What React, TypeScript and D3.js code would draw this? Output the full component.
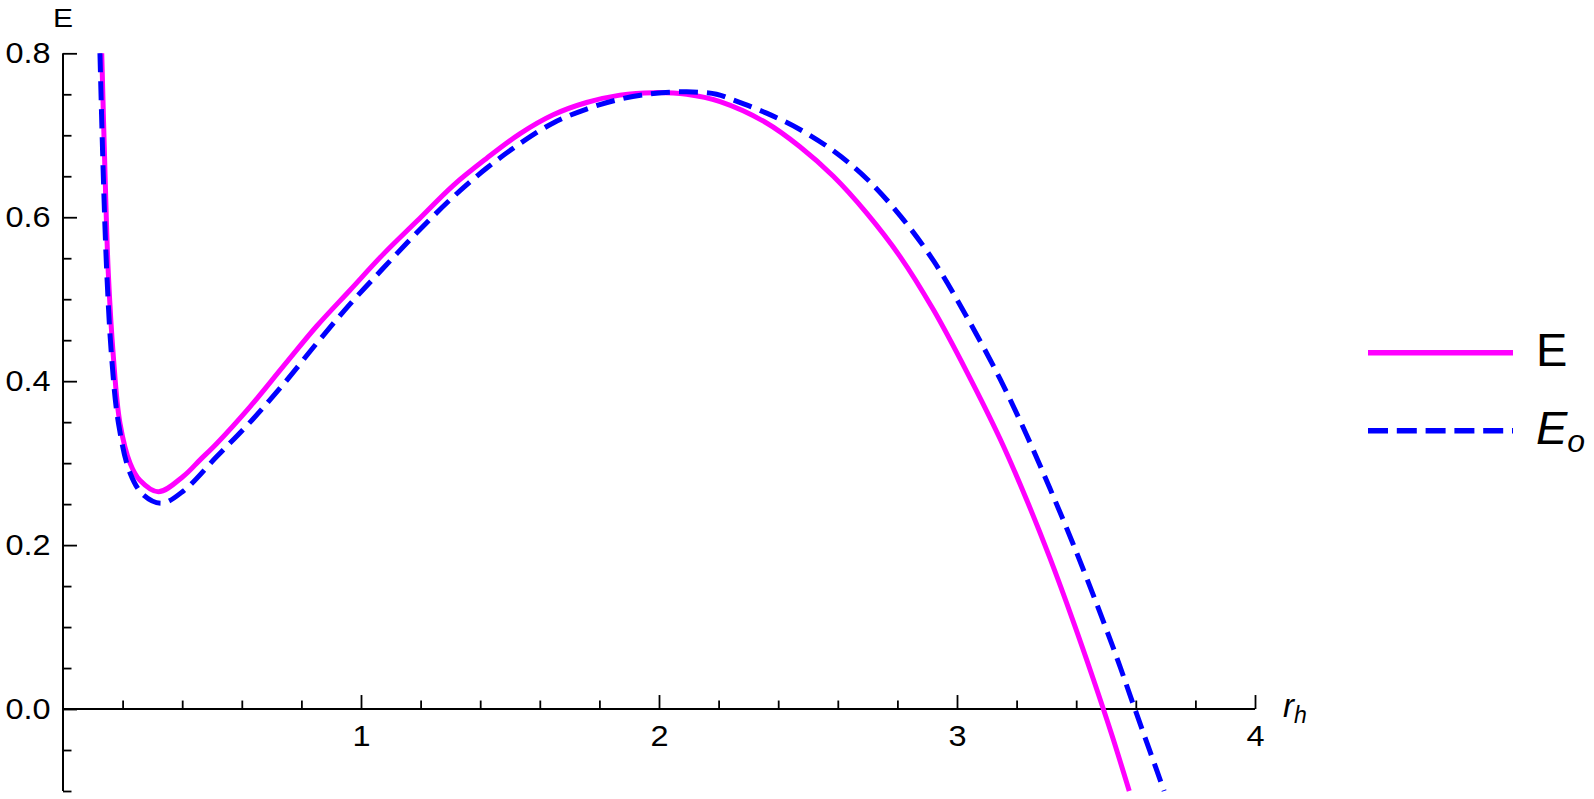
import React, { useRef, useEffect } from 'react';
import * as d3 from 'd3';

// E (solid magenta)
const rE = [0.130, 0.141, 0.152, 0.169, 0.191, 0.225, 0.258, 0.320, 0.404, 0.46, 0.516, 0.628, 0.739, 0.851, 0.963, 1.075, 1.187, 1.31, 1.422, 1.534, 1.645, 1.757, 1.869, 1.981, 2.093, 2.205, 2.361, 2.473, 2.585, 2.697, 2.809, 2.921, 3.032, 3.144, 3.234, 3.312, 3.39, 3.457, 3.52, 3.578];
const eVals = [0.800, 0.654, 0.532, 0.430, 0.349, 0.300, 0.279, 0.265, 0.284, 0.304, 0.324, 0.369, 0.418, 0.467, 0.511, 0.555, 0.595, 0.639, 0.672, 0.702, 0.725, 0.740, 0.749, 0.752, 0.750, 0.741, 0.715, 0.686, 0.650, 0.605, 0.552, 0.487, 0.412, 0.330, 0.255, 0.184, 0.107, 0.037, -0.032, -0.100];

// E_o (dashed blue)
const rEo = [0.124, 0.135, 0.147, 0.163, 0.186, 0.225, 0.27, 0.331, 0.404, 0.516, 0.628, 0.739, 0.851, 0.963, 1.075, 1.187, 1.31, 1.422, 1.534, 1.645, 1.757, 1.869, 1.981, 2.093, 2.193, 2.249, 2.361, 2.473, 2.585, 2.697, 2.809, 2.921, 3.032, 3.144, 3.234, 3.312, 3.39, 3.468, 3.536, 3.597, 3.648, 3.695];
const eoVals = [0.800, 0.654, 0.532, 0.430, 0.349, 0.288, 0.261, 0.251, 0.266, 0.308, 0.350, 0.396, 0.446, 0.494, 0.538, 0.581, 0.625, 0.660, 0.690, 0.715, 0.732, 0.744, 0.751, 0.753, 0.750, 0.743, 0.727, 0.707, 0.681, 0.647, 0.602, 0.547, 0.479, 0.403, 0.334, 0.269, 0.201, 0.129, 0.063, 0.0, -0.052, -0.100];

const xMajor = [1, 2, 3, 4];
const xMinor = d3.range(1, 20).map((i) => i * 0.2).filter((v) => Math.abs(v - Math.round(v)) > 1e-6);
const yMajor = [0, 0.2, 0.4, 0.6, 0.8];
const yMinor = d3.range(-2, 17).map((i) => i * 0.05).filter((v) => Math.abs(v * 5 - Math.round(v * 5)) > 1e-6);

const FONT = 'Liberation Sans, Arial, sans-serif';
const TICK_FONT = 29;
const STRETCH = 1.12;

function Chart() {
  const svgRef = useRef(null);

  useEffect(() => {
    const svg = d3.select(svgRef.current);
    svg.selectAll('*').remove();

    const x = d3.scaleLinear().domain([0, 4]).range([63, 1255]);
    const y = d3.scaleLinear().domain([-0.1, 0.8]).range([791, 53.3]);

    // x axis at y = 0, ticks pointing up
    const xMin = svg.append('g').attr('transform', `translate(0,${y(0)})`);
    xMin.call(d3.axisBottom(x).tickValues(xMinor).tickSize(-8.5).tickFormat(() => ''));
    xMin.select('.domain').remove();
    const xMaj = svg.append('g').attr('transform', `translate(0,${y(0)})`);
    xMaj.call(
      d3.axisBottom(x).tickValues(xMajor).tickSize(-14).tickPadding(16).tickFormat(d3.format('d'))
    );
    xMaj.select('.domain').remove();
    svg.append('line')
      .attr('x1', x(0)).attr('x2', x(4))
      .attr('y1', y(0)).attr('y2', y(0))
      .attr('stroke', '#000').attr('stroke-width', 2);

    // y axis at r = 0, ticks pointing right
    const yMin = svg.append('g').attr('transform', `translate(${x(0)},0)`);
    yMin.call(d3.axisLeft(y).tickValues(yMinor).tickSize(-8.5).tickFormat(() => ''));
    yMin.select('.domain').remove();
    const yMaj = svg.append('g').attr('transform', `translate(${x(0)},0)`);
    yMaj.call(
      d3.axisLeft(y).tickValues(yMajor).tickSize(-14).tickPadding(11).tickFormat(d3.format('.1f'))
    );
    yMaj.select('.domain').remove();
    svg.append('line')
      .attr('x1', x(0)).attr('x2', x(0))
      .attr('y1', y(-0.1)).attr('y2', y(0.8))
      .attr('stroke', '#000').attr('stroke-width', 2);

    svg.selectAll('.tick line').attr('stroke', '#000').attr('stroke-width', 1.8);
    svg.selectAll('.tick text')
      .attr('font-family', FONT)
      .attr('font-size', TICK_FONT)
      .attr('fill', '#000')
      .attr('transform', `scale(${STRETCH},1)`);

    // axis labels
    svg.append('text')
      .attr('x', 63 / 1.2).attr('y', 27)
      .attr('transform', 'scale(1.2,1)')
      .attr('text-anchor', 'middle')
      .attr('font-family', FONT).attr('font-size', 25)
      .text('E');
    const rl = svg.append('text')
      .attr('x', 1283).attr('y', 717)
      .attr('font-family', FONT).attr('font-style', 'italic').attr('font-size', 33);
    rl.append('tspan').text('r');
    rl.append('tspan').attr('font-size', 23).attr('dy', 6).text('h');

    // curves
    svg.append('clipPath').attr('id', 'plotclip')
      .append('rect')
      .attr('x', x(0)).attr('y', y(0.8) - 2)
      .attr('width', x(4) - x(0) + 10).attr('height', y(-0.1) - y(0.8) + 4);

    const line = d3.line()
      .x((d) => x(d[0]))
      .y((d) => y(d[1]))
      .curve(d3.curveCatmullRom.alpha(0.5));

    const ptsE = rE.map((r, i) => [r, eVals[i]]);
    const ptsEo = rEo.map((r, i) => [r, eoVals[i]]);

    const plot = svg.append('g').attr('clip-path', 'url(#plotclip)');
    plot.append('path')
      .attr('d', line(ptsE))
      .attr('fill', 'none')
      .attr('stroke', '#ff00ff')
      .attr('stroke-width', 5);
    plot.append('path')
      .attr('d', line(ptsEo))
      .attr('fill', 'none')
      .attr('stroke', '#0000ff')
      .attr('stroke-width', 5)
      .attr('stroke-dasharray', '19,9');

    // legend
    const leg = svg.append('g');
    leg.append('line')
      .attr('x1', 1368).attr('x2', 1513)
      .attr('y1', 352.7).attr('y2', 352.7)
      .attr('stroke', '#ff00ff').attr('stroke-width', 5.5);
    leg.append('text')
      .attr('x', 1536).attr('y', 366)
      .attr('font-family', FONT).attr('font-size', 47)
      .text('E');
    leg.append('line')
      .attr('x1', 1368).attr('x2', 1513)
      .attr('y1', 430.7).attr('y2', 430.7)
      .attr('stroke', '#0000ff').attr('stroke-width', 5.5)
      .attr('stroke-dasharray', '20,8.8');
    const eo = leg.append('text')
      .attr('x', 1536).attr('y', 444)
      .attr('font-family', FONT).attr('font-style', 'italic').attr('font-size', 47);
    eo.append('tspan').text('E');
    eo.append('tspan').attr('font-size', 32).attr('dy', 8).text('o');
  }, []);

  return (
    <svg
      ref={svgRef}
      width={1594}
      height={799}
      style={{ position: 'absolute', left: 0, top: 0, background: '#fff' }}
    ></svg>
  );
}

export default function App() {
  return <Chart />;
}
